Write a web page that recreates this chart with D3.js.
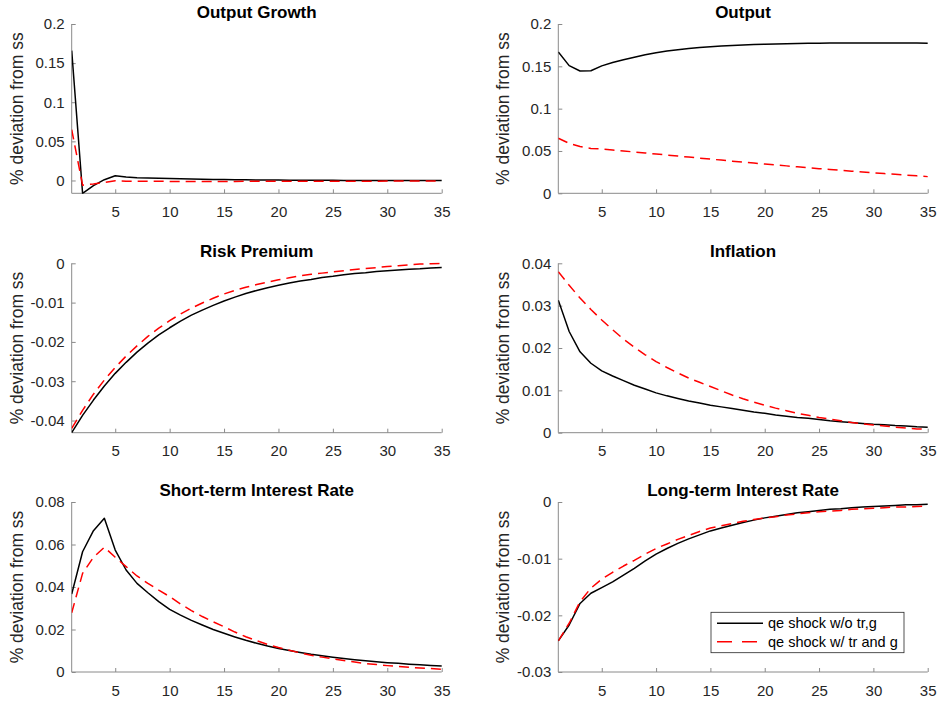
<!DOCTYPE html>
<html>
<head>
<meta charset="utf-8">
<script src="https://cdn.jsdelivr.net/npm/d3@7"></script>
<style>
  html, body { margin: 0; padding: 0; background: #fff; }
  svg text { font-family: Helvetica, Arial, "Liberation Sans", sans-serif; }
</style>
</head>
<body>
<svg id="chart" width="941" height="701"></svg>
<script>
// ---------- data ----------
const periods = d3.range(1, 36); // 1..35
const xTicks = [5, 10, 15, 20, 25, 30, 35];
const seriesNames = ["qe shock w/o tr,g", "qe shock w/ tr and g"];
const titles = ["Output Growth", "Output", "Risk Premium", "Inflation", "Short-term Interest Rate", "Long-term Interest Rate"];
const yLabel = "% deviation from ss";

const outputGrowthBase = [0.166, -0.0164, -0.0065, 0.0010, 0.0060, 0.0045, 0.0035, 0.0030, 0.0027, 0.0024,
  0.0021, 0.0018, 0.0015, 0.0013, 0.0011, 0.0009, 0.0008, 0.0007, 0.0006, 0.0005,
  0.0004, 0.0003, 0.0003, 0.0002, 0.0002, 0.0001, 0.0001, 0.0001, 0.0000, 0.0000,
  0.0000, -0.0001, -0.0001, -0.0001, -0.0001];
const outputGrowthAlt = [0.065, -0.0060, -0.0045, -0.0025, -0.0004, -0.0009, -0.0010, -0.0011, -0.0011, -0.0012,
  -0.0012, -0.0012, -0.0012, -0.0012, -0.0012, -0.0012, -0.0011, -0.0011, -0.0011, -0.0011,
  -0.0011, -0.0011, -0.0010, -0.0010, -0.0010, -0.0010, -0.0009, -0.0009, -0.0009, -0.0008,
  -0.0008, -0.0008, -0.0007, -0.0007, -0.0007];

const outputBase = [0.1670, 0.1508, 0.1445, 0.1448, 0.1505, 0.1545, 0.1578, 0.1608, 0.1636, 0.1660,
  0.1680, 0.1697, 0.1711, 0.1722, 0.1732, 0.1740, 0.1747, 0.1753, 0.1758, 0.1762,
  0.1765, 0.1768, 0.1770, 0.1772, 0.1774, 0.1775, 0.1776, 0.1776, 0.1776, 0.1776,
  0.1776, 0.1775, 0.1775, 0.1775, 0.1774];
const outputAlt = [0.0650, 0.0590, 0.0552, 0.0530, 0.0524, 0.0512, 0.0500, 0.0488, 0.0476, 0.0464,
  0.0452, 0.0440, 0.0428, 0.0416, 0.0404, 0.0392, 0.0380, 0.0368, 0.0357, 0.0346,
  0.0335, 0.0324, 0.0313, 0.0302, 0.0291, 0.0281, 0.0271, 0.0261, 0.0251, 0.0242,
  0.0233, 0.0224, 0.0215, 0.0206, 0.0197];

const riskBase = [-0.0431, -0.0387, -0.0348, -0.0312, -0.0280, -0.0252, -0.0226, -0.0203, -0.0182, -0.0164,
  -0.0147, -0.0132, -0.0119, -0.0107, -0.0096, -0.0086, -0.0077, -0.0069, -0.0062, -0.0056,
  -0.0050, -0.0045, -0.0041, -0.0036, -0.0033, -0.0029, -0.0026, -0.0024, -0.0021, -0.0019,
  -0.0017, -0.0015, -0.0014, -0.0012, -0.0011];
const riskAlt = [-0.0420, -0.0374, -0.0333, -0.0297, -0.0265, -0.0236, -0.0210, -0.0186, -0.0165, -0.0146,
  -0.0129, -0.0114, -0.0101, -0.0089, -0.0078, -0.0069, -0.0061, -0.0054, -0.0048, -0.0042,
  -0.0037, -0.0032, -0.0028, -0.0025, -0.0022, -0.0019, -0.0016, -0.0013, -0.0011, -0.0008,
  -0.0006, -0.0004, -0.0002, -0.0001, 0.0000];

const inflationBase = [0.0313, 0.0239, 0.0191, 0.0164, 0.0146, 0.0134, 0.0123, 0.0112, 0.0103, 0.0094,
  0.0087, 0.0081, 0.0075, 0.0070, 0.0065, 0.0061, 0.0057, 0.0053, 0.0049, 0.0046,
  0.0042, 0.0039, 0.0036, 0.0034, 0.0031, 0.0028, 0.0026, 0.0024, 0.0022, 0.0020,
  0.0019, 0.0017, 0.0016, 0.0014, 0.0013];
const inflationAlt = [0.0380, 0.0348, 0.0318, 0.0291, 0.0266, 0.0243, 0.0221, 0.0202, 0.0184, 0.0168,
  0.0154, 0.0141, 0.0129, 0.0119, 0.0109, 0.0099, 0.0089, 0.0080, 0.0072, 0.0065,
  0.0058, 0.0052, 0.0046, 0.0041, 0.0036, 0.0032, 0.0028, 0.0024, 0.0021, 0.0018,
  0.0016, 0.0013, 0.0011, 0.0009, 0.0008];

const shortRateBase = [0.0367, 0.0566, 0.0665, 0.0723, 0.0574, 0.0480, 0.0417, 0.0373, 0.0331, 0.0295,
  0.0268, 0.0243, 0.0221, 0.0200, 0.0182, 0.0165, 0.0149, 0.0135, 0.0122, 0.0111,
  0.0101, 0.0092, 0.0083, 0.0076, 0.0069, 0.0063, 0.0058, 0.0053, 0.0048, 0.0044,
  0.0041, 0.0037, 0.0034, 0.0031, 0.0028];
const shortRateAlt = [0.0279, 0.0464, 0.0540, 0.0587, 0.0540, 0.0496, 0.0452, 0.0417, 0.0385, 0.0355,
  0.0320, 0.0289, 0.0261, 0.0236, 0.0213, 0.0188, 0.0166, 0.0147, 0.0130, 0.0115,
  0.0102, 0.0090, 0.0079, 0.0070, 0.0062, 0.0054, 0.0047, 0.0040, 0.0035, 0.0030,
  0.0026, 0.0022, 0.0019, 0.0016, 0.0013];

const longRateBase = [-0.0245, -0.0217, -0.0179, -0.0161, -0.0151, -0.0141, -0.0129, -0.0117, -0.0104, -0.0092,
  -0.0082, -0.0073, -0.0065, -0.0058, -0.0051, -0.0046, -0.0041, -0.0036, -0.0032, -0.0028,
  -0.0025, -0.0022, -0.0019, -0.0017, -0.0015, -0.0013, -0.0012, -0.0010, -0.0009, -0.0008,
  -0.0007, -0.0006, -0.0005, -0.0005, -0.0004];
const longRateAlt = [-0.0245, -0.0214, -0.0176, -0.0152, -0.0136, -0.0124, -0.0113, -0.0103, -0.0092, -0.0082,
  -0.0074, -0.0066, -0.0059, -0.0052, -0.0046, -0.0042, -0.0038, -0.0034, -0.0031, -0.0028,
  -0.0026, -0.0023, -0.0021, -0.0019, -0.0017, -0.0016, -0.0015, -0.0013, -0.0012, -0.0011,
  -0.0010, -0.0009, -0.0009, -0.0008, -0.0007];

const yTicks = [
  [0, 0.05, 0.1, 0.15, 0.2],
  [0, 0.05, 0.1, 0.15, 0.2],
  [-0.04, -0.03, -0.02, -0.01, 0],
  [0, 0.01, 0.02, 0.03, 0.04],
  [0, 0.02, 0.04, 0.06, 0.08],
  [-0.03, -0.02, -0.01, 0]
];
const yDomains = [
  [-0.0164, 0.2],
  [0, 0.2],
  [-0.0431, 0],
  [0, 0.04],
  [0, 0.08],
  [-0.03, 0]
];
const panelSeries = [
  [outputGrowthBase, outputGrowthAlt],
  [outputBase, outputAlt],
  [riskBase, riskAlt],
  [inflationBase, inflationAlt],
  [shortRateBase, shortRateAlt],
  [longRateBase, longRateAlt]
];

// ---------- layout / style ----------
const colBox = [{x0: 71.7, x1: 441.7}, {x0: 558.3, x1: 927.7}];
const rowBox = [{y0: 24, y1: 193.3}, {y0: 263.3, y1: 432.7}, {y0: 502, y1: 672}];
const seriesStyle = [
  {color: "#000000", dash: null},
  {color: "#ff0000", dash: "10,6"}
];
const axisColor = "#8a8a8a";
const textColor = "#262626";
const fmt = v => {
  if (v === 0) return "0";
  return String(+v.toFixed(4));
};

const svg = d3.select("#chart");

titles.forEach((title, i) => {
  const c = colBox[i % 2], r = rowBox[Math.floor(i / 2)];
  const x = d3.scaleLinear().domain([1, 35]).range([c.x0, c.x1]);
  const y = d3.scaleLinear().domain(yDomains[i]).range([r.y1, r.y0]);
  const g = svg.append("g");

  const clipId = "clip" + i;
  svg.append("clipPath").attr("id", clipId)
    .append("rect").attr("x", c.x0).attr("y", r.y0 - 1)
    .attr("width", c.x1 - c.x0 + 1).attr("height", r.y1 - r.y0 + 1.5);

  // x axis (ticks inward)
  const xa = g.append("g").attr("transform", `translate(0,${r.y1})`)
    .call(d3.axisBottom(x).tickValues(xTicks).tickSizeInner(-4).tickSizeOuter(0).tickPadding(10).tickFormat(d3.format("d")));
  // y axis
  const ya = g.append("g").attr("transform", `translate(${c.x0},0)`)
    .call(d3.axisLeft(y).tickValues(yTicks[i]).tickSizeInner(-4).tickSizeOuter(0).tickPadding(7).tickFormat(fmt));

  [xa, ya].forEach(a => {
    a.select(".domain").attr("stroke", axisColor).attr("stroke-width", 1);
    a.selectAll(".tick line").attr("stroke", axisColor).attr("stroke-width", 1);
    a.selectAll(".tick text").attr("fill", textColor).attr("font-size", 15);
  });
  xa.select(".domain").attr("d", `M${c.x0},0H${c.x1}`);
  ya.select(".domain").attr("d", `M0,${r.y1}V${r.y0}`);
  xa.selectAll(".tick text").attr("dy", "0.9em");

  // title
  g.append("text")
    .attr("x", (c.x0 + c.x1) / 2).attr("y", r.y0 - 6.5)
    .attr("text-anchor", "middle").attr("font-size", 17).attr("font-weight", "bold")
    .attr("fill", "#000").text(title);

  // y label
  g.append("text")
    .attr("transform", `translate(${c.x0 - 49},${(r.y0 + r.y1) / 2}) rotate(-90)`)
    .attr("text-anchor", "middle").attr("font-size", 17.5).attr("fill", textColor)
    .text(yLabel);

  // lines
  const line = d3.line().x((d, k) => x(periods[k])).y(d => y(d));
  const lg = g.append("g").attr("clip-path", `url(#${clipId})`);
  panelSeries[i].forEach((vals, s) => {
    lg.append("path").datum(vals)
      .attr("d", line)
      .attr("fill", "none")
      .attr("stroke", seriesStyle[s].color)
      .attr("stroke-width", 1.5)
      .attr("stroke-linejoin", "round")
      .attr("stroke-dasharray", seriesStyle[s].dash);
  });
});

// legend (in last panel)
const leg = svg.append("g");
const legBox = {x: 711, y: 612.3, w: 193, h: 40.4};
leg.append("rect").attr("x", legBox.x).attr("y", legBox.y).attr("width", legBox.w).attr("height", legBox.h)
  .attr("fill", "#fff").attr("stroke", "#262626").attr("stroke-width", 0.8);
seriesNames.forEach((name, s) => {
  const yy = legBox.y + 11 + s * 18.4;
  leg.append("line").attr("x1", legBox.x + 6).attr("x2", legBox.x + 52)
    .attr("y1", yy).attr("y2", yy)
    .attr("stroke", seriesStyle[s].color).attr("stroke-width", 1.5)
    .attr("stroke-dasharray", s === 1 ? "15,10" : null);
  leg.append("text").attr("x", legBox.x + 57).attr("y", yy).attr("dy", "0.35em")
    .attr("font-size", 14.5).attr("fill", "#000").text(name);
});
</script>
</body>
</html>
